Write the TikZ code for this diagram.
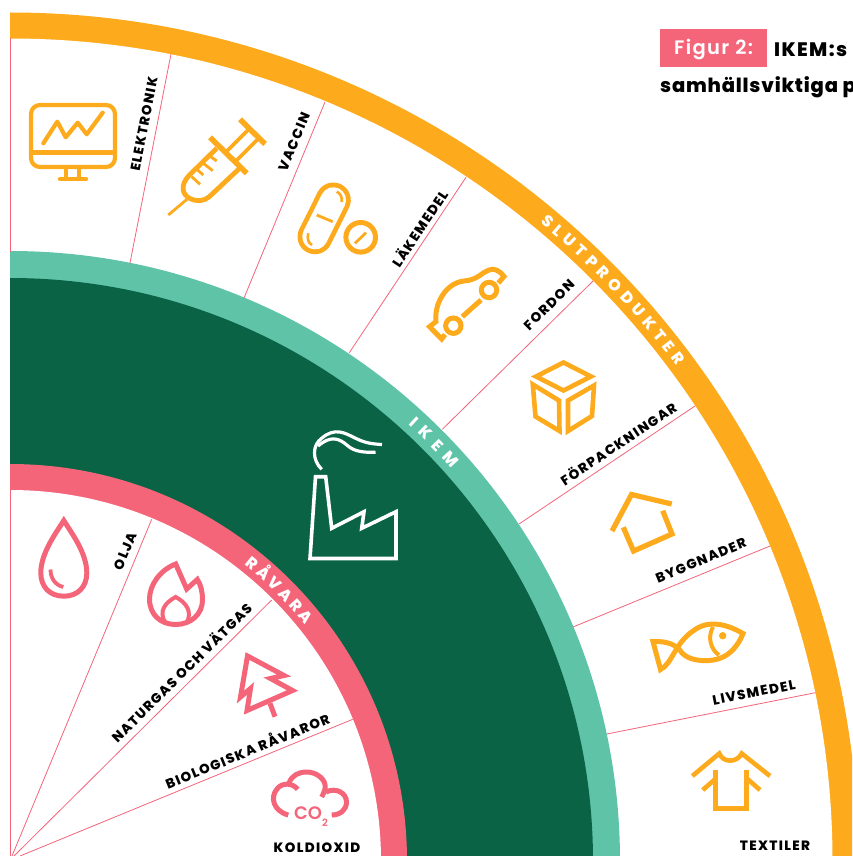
\documentclass[tikz,border=0pt]{standalone}
\usepackage{fontspec}
\usetikzlibrary{decorations.text}
\setmainfont{Poppins}
\newfontfamily\labf[LetterSpace=10]{Poppins ExtraBold}
\newfontfamily\ringf[LetterSpace=0]{Poppins ExtraBold}
\newfontfamily\headf[LetterSpace=7]{Poppins ExtraBold}
\newfontfamily\headg[LetterSpace=4]{Poppins ExtraBold}
\newfontfamily\figf[LetterSpace=7]{Poppins SemiBold}
\newfontfamily\cof{Poppins SemiBold}
\definecolor{orng}{HTML}{FDAA1D}
\definecolor{pnk}{HTML}{F4657A}
\definecolor{lgreen}{HTML}{5FC3A8}
\definecolor{dgreen}{HTML}{096344}
\tikzset{
  ray/.style={pnk,line width=0.8pt},
  oicon/.style={orng,line width=5pt,miter limit=6},
  picon/.style={pnk,line width=5pt,miter limit=6},
  wicon/.style={white,line width=3.6pt,miter limit=6},
  lab/.style={font=\labf\fontsize{13.5}{15}\selectfont,text=black,inner sep=0pt,anchor=center},
  ringtext/.style={decorate,decoration={text along path,text align={fit to path},
     text={|\ringf\fontsize{16}{18}\selectfont\color{white}|#1}}},
}
\begin{document}
\begin{tikzpicture}[x=1pt,y=-1pt]
\useasboundingbox (0,0) rectangle (852,856);
\begin{scope}
\clip (10,0) rectangle (852,856);
\fill[orng] (10,861) circle[radius=848.5];
\fill[white] (10,861) circle[radius=822.5];
\fill[lgreen] (10,861) circle[radius=610];
\fill[dgreen] (10,861) circle[radius=583];
\fill[pnk] (10,861) circle[radius=397];
\fill[white] (10,861) circle[radius=371];
\end{scope}
% rays
\draw[ray] (10,38) -- (10,252);
\draw[ray] (10,490) -- (10,856);
\draw[ray] (130,263) -- (171,54);
\draw[ray] (244,298) -- (325,102);
\draw[ray] (349.3,352.7) -- (466,177.3);
\draw[ray] (442.3,429.3) -- (593,281);
\draw[ray] (519,524) -- (695,406);
\draw[ray] (573,627) -- (770,546);
\draw[ray] (606.7,734) -- (815.3,692.7);
\draw[ray] (151.7,519.3) -- (12,856);
\draw[ray] (271.7,600) -- (14,856);
\draw[ray] (352.7,719.3) -- (20,856);
% ring labels
\path[y=1pt,ringtext=SLUTPRODUKTER] ([shift={(10,-861)}]50.3:830) arc[start angle=50.3,end angle=36.6,radius=830];
\path[y=1pt,ringtext=IKEM] ([shift={(10,-861)}]47.6:591) arc[start angle=47.6,end angle=41.6,radius=591];
\path[y=1pt,ringtext=RÅVARA] ([shift={(10,-861)}]51.6:378) arc[start angle=51.6,end angle=38.6,radius=378];
% labels
\node[lab,rotate=78.9] (l1) at (144,124) {ELEKTRONIK};
\node[lab,rotate=67.5] (l2) at (294,142) {VACCIN};
\node[lab,rotate=56.4] (l3) at (419,228) {LÄKEMEDEL};
\node[lab,rotate=44.5] (l4) at (549,305) {FORDON};
\node[lab,rotate=33.8] (l5) at (618,443) {FÖRPACKNINGAR};
\node[lab,rotate=22.3] (l6) at (701,560.5) {BYGGNADER};
\node[lab,rotate=11.2] (l7) at (754,692.5) {LIVSMEDEL};
\node[lab] (l8) at (775,846) {TEXTILER};
\node[lab,rotate=67.5] (l9) at (125,551) {OLJA};
\node[lab,rotate=44.7] (l10) at (181,672) {NATURGAS OCH VÄTGAS};
\node[lab,rotate=22.3] (l11) at (247,750) {BIOLOGISKA RÅVAROR};
\node[lab] (l12) at (317,848) {KOLDIOXID};
% monitor
\draw[oicon,line width=4.2pt,rounded corners=9pt] (31,105) rectangle (115,167);
\draw[oicon,line width=4.5pt] (31,152.5) -- (115,152.5);
\draw[oicon,line width=3.8pt] (65.7,167) -- (65.7,178) (79,167) -- (79,178);
\draw[oicon,line width=4.4pt,line cap=round] (60,179) -- (86,179);
\draw[oicon,line width=4.2pt,line cap=round,line join=round] (43.3,143.3) -- (57.3,121.7) -- (65.7,137.3) -- (77.7,122.7) -- (86.7,134.3) -- (102.7,112.7);
% syringe
\draw[oicon,line width=5.5pt] (240,119.3) -- (265,144);
\draw[oicon,line width=5.5pt] (210,137.3) -- (246.7,173.3);
\draw[oicon,line width=3.8pt] (249,129) -- (224,154) (258,139) -- (235,162);
\draw[oicon,line width=4.8pt] (216.7,148.3) -- (189,175.5) .. controls (180,185) and (182,195) .. (190,198.5) .. controls (197,202) and (204,201) .. (209,197) -- (241,167);
\draw[oicon,line width=2.8pt] (187.3,199) -- (168.3,215);
\draw[oicon,line width=2.8pt] (209.3,155.7) -- (216.7,161) (203.3,163.3) -- (212.7,170.7) (196.7,169.3) -- (203.3,175) (191.7,176.7) -- (200,184.3);
% pills
\draw[orng,line width=35pt,line cap=round] (333.3,200) -- (315,236.7);
\draw[white,line width=25.5pt,line cap=round] (333.3,200) -- (315,236.7);
\draw[oicon,line width=2.8pt] (316.7,215) -- (332.7,221.7);
\draw[oicon,line width=2.6pt] (336.7,191.7) .. controls (340,193) and (342.5,197) .. (341.7,202);
\draw[oicon,line width=2.6pt] (308.3,233.3) .. controls (307,238) and (308,243) .. (312,245);
\draw[oicon] (360.7,237.3) circle[radius=14.8];
\draw[oicon,line width=2.8pt] (355,243.3) -- (366,232.7);
% car
\draw[oicon] (453.3,325.7) circle[radius=7.7];
\draw[oicon] (489,290) circle[radius=7.7];
\draw[oicon] (462.3,316.7) -- (481,300);
\draw[oicon,line join=miter] (445,334.5) -- (441.7,339) -- (429.5,326.7) -- (436,321.5) .. controls (434,305) and (445,283) .. (464,281) .. controls (478,280) and (482,272) .. (489,270) .. controls (494,268) and (499,270) .. (504,276.5) -- (498.3,283);
% box
\draw[oicon,line width=4.6pt,line join=miter] (563.5,362.5) -- (591,376.5) -- (563.5,390.5) -- (536,376.5) -- cycle;
\draw[oicon,line width=4.6pt,line join=miter] (532.8,384.5) -- (559,400.5) -- (559.5,431) -- (535.5,416.5) -- cycle;
\draw[oicon,line width=4.6pt,line join=miter] (568,400.5) -- (594,385.5) -- (592,416) -- (568,431) -- cycle;
% house
\draw[oicon,line width=5.2pt] (612,531) -- (631.5,494.5) -- (671.7,504);
\draw[oicon,line width=5.2pt] (623.3,527.3) -- (633.5,551) -- (672,534) -- (662.7,510.7);
% fish
\draw[oicon] (653,641.5) .. controls (668,641) and (677,645) .. (682,653) .. controls (690,662) and (715,664) .. (728,654) .. controls (735,649) and (740,641) .. (743,633.5) .. controls (725,623) and (707,620) .. (693,631) .. controls (675,643) and (672,664) .. (660.5,669.5) -- cycle;
\draw[oicon,line width=4pt] (713,627) .. controls (707,637) and (711,650) .. (719,655);
\fill[orng] (722.7,635.7) circle[radius=3.7];
% shirt
\draw[oicon,line width=4.6pt] (692.3,776) -- (719.3,753.5) .. controls (723,763) and (737,763) .. (741.7,753.5) -- (770,776);
\draw[oicon,line width=5pt] (715,770) -- (715,808.5) -- (746.7,808.5) -- (746.7,770);
\draw[oicon,line width=4.6pt] (702.7,790) -- (715,779.3) (746.7,778.3) -- (760,790);
% drop
\draw[picon] (63.8,520.5) .. controls (56,533) and (40.8,553) .. (40.8,573) .. controls (40.8,587) and (50,596.2) .. (63.8,596.2) .. controls (77.5,596.2) and (86.8,587) .. (86.8,573) .. controls (86.8,553) and (71.5,533) .. (63.8,520.5) -- cycle;
\draw[picon,line width=3.8pt] (50.5,569.5) .. controls (50.5,578) and (55,585) .. (63.3,587);
% flame
\draw[picon,line join=miter] (175.7,564) .. controls (160,570) and (149.5,585) .. (149.5,599) .. controls (149.5,615) and (161,624.5) .. (175.7,624.5) .. controls (191,624.5) and (202.5,614) .. (202.5,600) .. controls (202.5,592) and (201,585) .. (197.3,579.5) -- (186.7,589) -- cycle;
\draw[picon,line width=4pt] (165,622) .. controls (159,612) and (164,603) .. (175.7,597) .. controls (187,603) and (192,612) .. (187,622);
% tree
\draw[picon,line join=miter] (247.5,656) -- (284,675.5) -- (270.5,678.5) -- (292.5,690.5) -- (247,710.5) -- (250.5,688.5) -- (240.5,697) -- cycle;
\draw[picon] (270,703.3) -- (275,716.7);
% cloud
\draw[picon,line join=round] (297.7,789.3) .. controls (293,783) and (282,782) .. (277,789) .. controls (270,797) and (273,811) .. (288.3,815);
\draw[picon,line join=round] (289,783) .. controls (292,775) and (299,772) .. (306.7,772) .. controls (317,772) and (327,780) .. (325,789) .. controls (324,792) and (323,795) .. (321.7,797);
\draw[picon,line join=round] (326,792) .. controls (336,787) and (346.5,793) .. (346.5,802) .. controls (346.5,810) and (340,815) .. (331.7,815);
\node[font=\cof\fontsize{18}{20}\selectfont,text=pnk,inner sep=0pt] (co) at (308,813) {CO};
\node[font=\cof\fontsize{10}{11}\selectfont,text=pnk,inner sep=0pt] (two) at (325,822.7) {2};
% factory
\draw[wicon,line join=miter] (315.5,476.7) -- (325.7,476.7) -- (331.7,528.3) -- (364,511.7) -- (361.7,528.3) -- (396,511.7) -- (396,558.5) -- (310,558.5) -- cycle;
\draw[wicon,line width=3.2pt] (321.7,469.3) .. controls (312,460) and (312,445) .. (322,438) .. controls (335,427) and (345,433) .. (355,438) .. controls (365,443) and (372,444) .. (382,444.5);
\draw[wicon,line width=3.2pt] (318,446) .. controls (330,436) and (338,437) .. (348,446) .. controls (355,452) and (365,452.5) .. (375.5,452.3);
% header
\fill[pnk] (660,29) rectangle (767,66.7);
\node[font=\figf\fontsize{19.5}{22}\selectfont,text=white,inner sep=0pt,anchor=base] (fig) at (713.5,55) {Figur 2:};
\begin{scope}
\clip (0,0) rectangle (852,856);
\node[font=\headf\fontsize{19.5}{22}\selectfont,text=black,inner sep=0pt,anchor=base west] (h1) at (774,57) {IKEM:s};
\node[font=\headg\fontsize{19.5}{22}\selectfont,text=black,inner sep=0pt,anchor=base west] (h2) at (660,92.5) {samhällsviktiga p};
\end{scope}
\end{tikzpicture}
\end{document}
